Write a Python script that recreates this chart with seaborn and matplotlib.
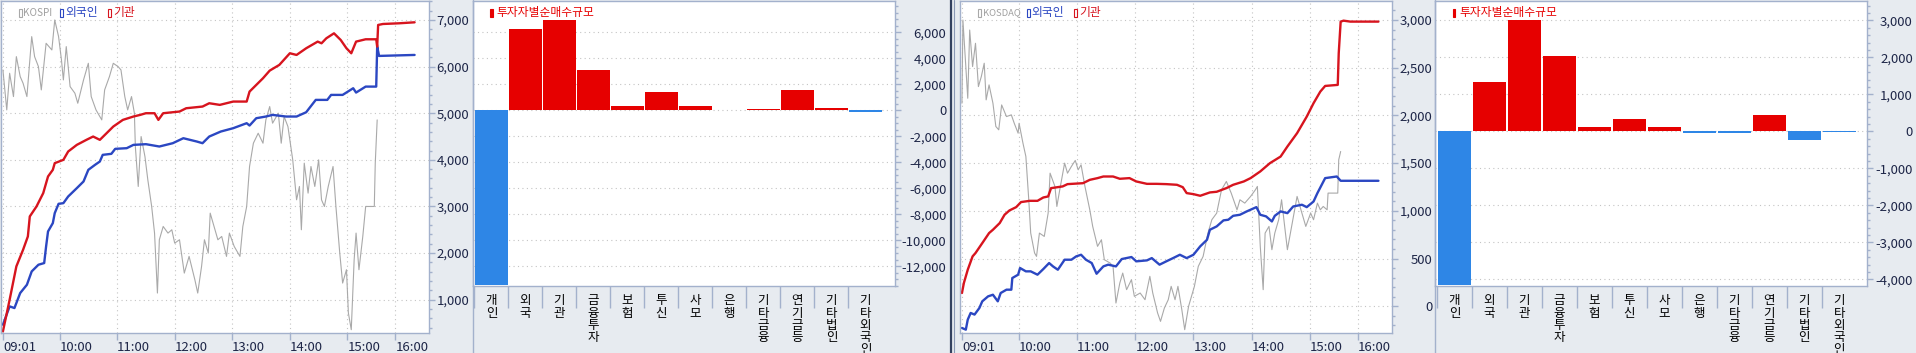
#!/usr/bin/env python3

import numpy as np
import pandas as pd
import seaborn as sns
import matplotlib.pyplot as plt
from matplotlib.lines import Line2D
from matplotlib.patches import Rectangle
from matplotlib.ticker import MultipleLocator, FixedLocator, FuncFormatter

sns.set_theme(style="white")
plt.rcParams["font.family"] = ["Noto Sans CJK KR", "DejaVu Sans"]
plt.rcParams["axes.unicode_minus"] = False

# time axis: minute index of the intraday chart
time_ticks = [1, 60, 120, 180, 240, 300, 360, 410]
time_labels = ["09:01", "10:00", "11:00", "12:00", "13:00", "14:00", "15:00", "16:00"]

# KOSPI index (drawn on the same value scale as the chart)
kospi_t = [1, 3, 5, 8, 12, 15, 19, 22, 26, 31, 34, 38, 41, 46, 52, 55, 59, 62, 64, 67,
           71, 76, 79, 85, 90, 93, 98, 104, 107, 112, 116, 121, 124, 128, 131, 135, 138, 139, 142, 145,
           149, 152, 156, 159, 162, 164, 168, 173, 177, 180, 185, 190, 195, 201, 204, 208, 211, 215, 217, 222,
           225, 229, 234, 237, 242, 248, 251, 255, 258, 262, 267, 272, 275, 279, 282, 288, 291, 294, 298, 303,
           307, 310, 312, 315, 319, 322, 326, 330, 333, 336, 340, 345, 348, 352, 355, 359, 361, 364, 367, 369,
           372, 376, 379, 388, 389, 391]
kospi_idx = [5929, 5500, 5071, 5857, 5357, 6214, 5786, 5643, 5357, 6643, 6214, 6000, 5500, 6500, 6357,
             7000, 6643, 6143, 5714, 6429, 5571, 5429, 5214, 5714, 6071, 5357, 5071, 4857, 5500, 5786,
             6071, 6000, 5929, 5357, 5071, 5357, 5000, 4286, 3429, 4500, 4071, 3571, 3000, 2429, 1143,
             2286, 2571, 2429, 2500, 2214, 2286, 1571, 1929, 1429, 1143, 1714, 2286, 2000, 2857, 2500,
             2286, 2357, 1929, 2429, 2143, 1929, 2571, 3000, 3857, 4357, 4571, 4357, 4857, 5143, 4786,
             5000, 4357, 4929, 4714, 4000, 3143, 3429, 2500, 3929, 3286, 3857, 3429, 4000, 3143, 3000,
             3429, 3857, 3000, 2000, 1357, 1643, 714, 357, 1857, 2429, 1643, 2357, 3000, 3000, 3929, 4857]

kospi_frgn_t = [1, 8, 13, 19, 26, 31, 38, 44, 46, 48, 53, 55, 59, 64, 69, 78, 85, 90, 97, 102,
                105, 114, 118, 130, 137, 150, 164, 178, 189, 203, 209, 216, 228, 241, 255, 258, 265, 275, 282, 296,
                307, 317, 327, 339, 343, 355, 366, 369, 379, 390, 391, 393, 430]
kospi_frgn = [464, 857, 821, 1143, 1321, 1607, 1750, 1786, 2143, 2464, 2643, 2857, 3057, 3071, 3214,
              3393, 3536, 3786, 3893, 3964, 4107, 4129, 4236, 4250, 4321, 4336, 4286, 4357, 4464, 4393,
              4357, 4500, 4607, 4679, 4786, 4736, 4893, 4929, 4964, 4929, 4929, 5021, 5286, 5286, 5393,
              5393, 5536, 5443, 5571, 5571, 6429, 6229, 6250]

kospi_inst_t = [1, 8, 15, 22, 27, 29, 36, 43, 48, 53, 55, 64, 69, 78, 88, 95, 102, 109, 116, 126,
                137, 144, 150, 159, 163, 168, 185, 192, 209, 216, 227, 241, 255, 258, 272, 279, 289, 300, 307, 317,
                329, 333, 338, 346, 353, 359, 364, 369, 379, 390, 391, 392, 397, 414, 430]
kospi_inst = [320, 1000, 1714, 2071, 2357, 2786, 3000, 3286, 3643, 3786, 3929, 4000, 4179, 4321, 4429,
              4500, 4429, 4571, 4714, 4857, 4929, 4964, 5000, 5000, 4857, 5000, 5036, 5107, 5143, 5214,
              5179, 5250, 5250, 5464, 5750, 5914, 6036, 6286, 6250, 6393, 6536, 6500, 6607, 6714, 6571,
              6393, 6286, 6536, 6586, 6586, 6429, 6893, 6914, 6929, 6950]

# KOSDAQ index (drawn on the same value scale as the chart)
kosdaq_t = [1, 2, 5, 7, 9, 12, 15, 18, 21, 24, 26, 29, 33, 36, 39, 42, 47, 52, 55, 59,
            60, 64, 67, 70, 72, 76, 78, 81, 86, 90, 92, 97, 99, 102, 107, 110, 114, 118, 121, 124,
            128, 133, 136, 141, 145, 148, 154, 157, 160, 164, 167, 171, 176, 179, 185, 190, 195, 198, 203, 206,
            210, 214, 217, 221, 224, 228, 231, 235, 241, 245, 250, 255, 259, 264, 269, 274, 279, 285, 288, 293,
            299, 304, 306, 309, 312, 314, 318, 321, 324, 328, 331, 335, 337, 342, 347, 352, 356, 361, 364, 368,
            371, 374, 378, 379, 389, 390, 392]
kosdaq_idx = [2128, 3000, 2512, 2180, 2895, 2512, 2756, 2302, 2407, 2547, 2163, 2320, 2128, 1884, 1849,
              2110, 1988, 2006, 1918, 1814, 1918, 1709, 1570, 1116, 767, 558, 523, 767, 732, 976,
              1395, 1256, 1046, 1221, 1500, 1395, 1465, 1528, 1430, 1482, 1256, 1011, 837, 628, 697,
              488, 453, 418, 34, 244, 348, 174, 279, 104, 139, 69, 314, 139, -70, -158,
              -18, 69, 209, 69, 209, -35, -245, 0, 209, 418, 523, 767, 907, 976, 1221,
              1308, 1186, 1011, 1116, 1081, 1151, 1221, 1256, 628, 174, 767, 837, 593, 767, 907,
              1116, 767, 593, 872, 1151, 976, 837, 976, 907, 1081, 1011, 1046, 1011, 1186, 1186, 1535, 1622]

kosdaq_frgn_t = [1, 5, 7, 10, 14, 19, 22, 28, 33, 38, 41, 47, 52, 53, 59, 61, 67, 72, 79, 85,
                 91, 95, 100, 107, 114, 119, 124, 129, 135, 140, 147, 152, 160, 166, 176, 181, 192, 197, 205, 212,
                 219, 226, 233, 240, 247, 254, 257, 264, 271, 276, 281, 288, 295, 305, 309, 315, 321, 324, 330, 337,
                 343, 352, 357, 364, 368, 376, 388, 392, 431]
kosdaq_frgn = [-227, -245, -140, -70, -87, -18, 52, 104, 121, 52, 139, 174, 174, 296, 331,
               401, 366, 366, 331, 390, 453, 418, 383, 488, 488, 523, 540, 488, 453, 341,
               418, 436, 418, 495, 516, 471, 481, 505, 436, 471, 505, 540, 505, 540, 628,
               697, 802, 837, 900, 907, 948, 959, 994, 1039, 959, 942, 889, 948, 994, 976,
               1046, 1064, 1039, 1098, 1186, 1343, 1360, 1315, 1315]

kosdaq_inst_t = [1, 3, 7, 12, 15, 22, 29, 33, 40, 45, 50, 57, 62, 71, 79, 85, 90, 93, 105, 110,
                 126, 133, 141, 147, 157, 164, 174, 181, 192, 202, 212, 223, 229, 233, 240, 247, 257, 264, 274, 281,
                 292, 299, 309, 319, 330, 337, 347, 357, 364, 371, 376, 389, 390, 392, 395, 402, 431]
kosdaq_inst = [139, 244, 383, 523, 558, 662, 767, 802, 872, 959, 1004, 1039, 1092, 1105, 1105,
               1140, 1151, 1238, 1256, 1280, 1290, 1325, 1343, 1360, 1360, 1336, 1343, 1308, 1283, 1283,
               1280, 1273, 1248, 1186, 1175, 1158, 1193, 1200, 1238, 1273, 1308, 1343, 1413, 1500, 1569,
               1674, 1814, 1988, 2128, 2250, 2309, 2320, 2651, 2983, 2993, 2983, 2983]

# net buying by investor type
categories = ["개인", "외국", "기관", "금융투자", "보험", "투신", "사모", "은행",
              "기타금융", "연기금등", "기타법인", "기타외국인"]
kospi_net = [-13400, 6256, 6949, 3103, 333, 1410, 333, 50, 100, 1564, 180, -100]
kosdaq_net = [-4150, 1333, 3000, 2036, 117, 333, 117, -36, -36, 441, -234, -15]

BG = "#E7EBF0"
SPINE = "#A3B1CC"
TXT = "#1E2648"
GRID = "#C4C4C4"
RED_LINE = "#D7141E"
BLUE_LINE = "#2B47C2"
GRAY_LINE = "#A9A9A9"
RED_BAR = "#E60000"
BLUE_BAR = "#2E86E6"

W, H = 1916, 353
fig = plt.figure(figsize=(W / 100, H / 100), dpi=100, facecolor=BG)


def px_box(left, top, right, bottom):
    return [left / W, 1 - bottom / H, (right - left) / W, (bottom - top) / H]


def fig_text(x, y, s, **kw):
    fig.text(x / W, 1 - y / H, s, va="center", ha="left", **kw)


def fig_rect(x, y, w, h, color, fill):
    fig.add_artist(Rectangle((x / W, 1 - (y + h) / H), w / W, h / H,
                             transform=fig.transFigure, fill=fill,
                             facecolor=color, edgecolor=color, linewidth=0.8))


def fig_vline(x, color, lw, top=0, bottom=H):
    fig.add_artist(Line2D([x / W, x / W], [1 - top / H, 1 - bottom / H],
                          transform=fig.transFigure, color=color, linewidth=lw))


def style_value_axis(ax, major, minor, pad, tick_range):
    ax.set_facecolor("white")
    ax.set_xlabel("")
    ax.set_ylabel("")
    ax.yaxis.tick_right()
    ax.yaxis.set_major_locator(FixedLocator(np.arange(tick_range[0], tick_range[1] + 1, major)))
    ax.yaxis.set_minor_locator(MultipleLocator(minor))
    ax.yaxis.set_major_formatter(FuncFormatter(lambda v, p: f"{v:,.0f}"))
    ax.tick_params(axis="y", which="major", length=4, width=1, color=SPINE,
                   pad=pad, labelsize=9.5, labelcolor=TXT)
    ax.tick_params(axis="y", which="minor", length=2.5, width=1, color=SPINE)
    plt.setp(ax.get_yticklabels(), ha="right")
    ax.grid(True, axis="y", which="major", linestyle=(0, (1, 3)), color=GRID, linewidth=0.8)
    for s in ax.spines.values():
        s.set_color(SPINE)
        s.set_linewidth(1)


def draw_line_panel(box, t_idx, idx_vals, t_f, f_vals, t_i, i_vals, ylim, major, minor, pad, tick_range):
    ax = fig.add_axes(px_box(*box))
    sns.lineplot(x=t_idx, y=idx_vals, ax=ax, color=GRAY_LINE, linewidth=0.8,
                 estimator=None, sort=False)
    sns.lineplot(x=t_f, y=f_vals, ax=ax, color=BLUE_LINE, linewidth=1.7,
                 estimator=None, sort=False)
    sns.lineplot(x=t_i, y=i_vals, ax=ax, color=RED_LINE, linewidth=1.7,
                 estimator=None, sort=False)
    ax.set_xlim(-1, 445)
    ax.set_ylim(*ylim)
    ax.set_xticks(time_ticks)
    ax.set_xticklabels(time_labels, ha="left")
    ax.tick_params(axis="x", length=5, width=1, color=SPINE, pad=1,
                   labelsize=9.5, labelcolor=TXT, bottom=True)
    ax.grid(True, axis="x", linestyle=(0, (1, 3)), color=GRID, linewidth=0.8)
    style_value_axis(ax, major, minor, pad, tick_range)
    return ax


def draw_bar_panel(box, values, ylim, xlim, width, major, minor, pad, tick_range):
    ax = fig.add_axes(px_box(*box))
    df = pd.DataFrame({"category": categories, "value": values})
    df["side"] = np.where(df["value"] >= 0, "buy", "sell")
    sns.barplot(data=df, x="category", y="value", hue="side",
                palette={"buy": RED_BAR, "sell": BLUE_BAR}, dodge=False,
                width=width, saturation=1, errorbar=None, linewidth=0,
                legend=False, ax=ax)
    ax.set_xlim(*xlim)
    ax.set_ylim(*ylim)
    ax.set_xticks(range(len(categories)))
    ax.set_xticklabels(["\n".join(c) for c in categories], linespacing=0.92,
                       fontsize=9, color="black", va="top")
    ax.set_xticks(np.arange(-0.5, len(categories) - 1), minor=True)
    ax.tick_params(axis="x", which="major", length=0, pad=6, bottom=True)
    ax.tick_params(axis="x", which="minor", length=16, width=1, color=SPINE, bottom=True)
    style_value_axis(ax, major, minor, pad, tick_range)
    return ax


# KOSPI panels
draw_line_panel((1, 1, 429, 333), kospi_t, kospi_idx, kospi_frgn_t, kospi_frgn,
                kospi_inst_t, kospi_inst, (286, 7407), 1000, 200, 25, (1000, 7000))
draw_bar_panel((473, 1, 895, 286), kospi_net, (-13513, 8410), (-0.544, 11.87), 0.97,
               2000, 500, 33, (-12000, 6000))

# KOSDAQ panels
draw_line_panel((960, 1, 1392, 333), kosdaq_t, kosdaq_idx, kosdaq_frgn_t, kosdaq_frgn,
                kosdaq_inst_t, kosdaq_inst, (-280, 3199), 500, 100, 25, (0, 3000))
draw_bar_panel((1435, 1, 1867, 286), kosdaq_net, (-4180, 3523), (-0.557, 11.79), 0.94,
               1000, 200, 29, (-4000, 3000))

# panel borders and separator
fig_vline(472.5, SPINE, 1.0)
fig_vline(1435, SPINE, 1.0)
fig_vline(951, "#33415F", 1.6)
fig_vline(953.8, "#8A98B4", 0.8)

# legends
LEG_GRAY = "#A0A0A0"
fig_rect(18.5, 9.5, 3, 7, GRAY_LINE, False)
fig_text(23.5, 12.7, "KOSPI", color=LEG_GRAY, fontsize=7.2)
fig_rect(60.3, 9.5, 3, 7, BLUE_LINE, False)
fig_text(65.5, 12.7, "외국인", color=BLUE_LINE, fontsize=8.5)
fig_rect(107.7, 9.5, 3, 7, RED_LINE, False)
fig_text(113, 12.7, "기관", color=RED_LINE, fontsize=8.5)

fig_rect(490, 9.5, 2.7, 7, RED_BAR, True)
fig_text(496, 12.7, "투자자별순매수규모", color=RED_BAR, fontsize=8.5)

fig_rect(978.3, 9.5, 3, 7, GRAY_LINE, False)
fig_text(983.5, 12.7, "KOSDAQ", color=LEG_GRAY, fontsize=6.8)
fig_rect(1026.7, 9.5, 3, 7, BLUE_LINE, False)
fig_text(1031.7, 12.7, "외국인", color=BLUE_LINE, fontsize=8.5)
fig_rect(1074, 9.5, 3, 7, RED_LINE, False)
fig_text(1079.3, 12.7, "기관", color=RED_LINE, fontsize=8.5)

fig_rect(1452.7, 9.5, 2.7, 7, RED_BAR, True)
fig_text(1459, 12.7, "투자자별순매수규모", color=RED_BAR, fontsize=8.5)

fig.savefig("out.png", dpi=100, facecolor=BG)
